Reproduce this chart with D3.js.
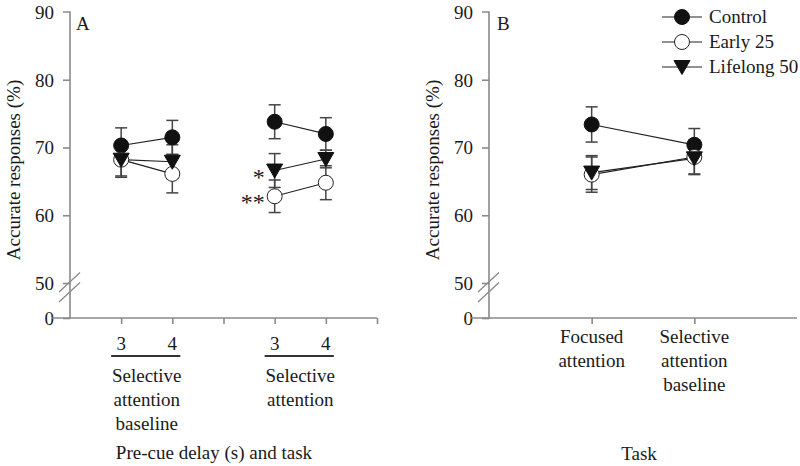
<!DOCTYPE html>
<html>
<head>
<meta charset="utf-8">
<script src="https://cdn.jsdelivr.net/npm/d3@7"></script>
<style>
  html, body { margin: 0; padding: 0; background: #fff; }
  svg { display: block; }
  text { font-family: "Liberation Serif", "Times New Roman", serif; fill: #1a1a1a; }
</style>
</head>
<body>
<svg id="chart" width="800" height="466"></svg>
<script>
// ---------- DATA ----------
const seriesNames = ["Control", "Early 25", "Lifelong 50"];
const yTicks = [0, 50, 60, 70, 80, 90];

// Panel A: pre-cue delay (s) within two tasks
const panelAPositions = [1, 2, 4, 5];
const panelADelays = ["3", "4", "3", "4"];
const panelAGroupLabels = [["Selective", "attention", "baseline"], ["Selective", "attention"]];
const controlA = [70.3, 71.5, 73.8, 72.0];
const controlAErr = [2.6, 2.5, 2.5, 2.4];
const early25A = [68.2, 66.1, 62.8, 64.8];
const early25AErr = [2.6, 2.8, 2.4, 2.5];
const lifelong50A = [68.2, 67.9, 66.6, 68.3];
const lifelong50AErr = [2.4, 2.5, 2.5, 1.3];
const signifA = [{ series: "Lifelong 50", pos: 4, mark: "*" }, { series: "Early 25", pos: 4, mark: "**" }];

// Panel B: task
const panelBPositions = [1, 2];
const panelBLabels = [["Focused", "attention"], ["Selective", "attention", "baseline"]];
const controlB = [73.4, 70.4];
const controlBErr = [2.6, 2.4];
const early25B = [66.0, 68.6];
const early25BErr = [2.6, 2.5];
const lifelong50B = [66.3, 68.4];
const lifelong50BErr = [2.5, 2.4];

// ---------- DRAW ----------
const svg = d3.select("#chart");
const axisColor = "#8a8a8a";
const errColor = "#444";

// broken y scale: 0..50 compressed, 50..90 linear
const y = d3.scaleLinear().domain([0, 50, 90]).range([318, 283, 12]);

const xA = d3.scaleLinear().domain([0, 6]).range([70, 377]);
const xB = d3.scaleLinear().domain([0, 3]).range([489, 797]);

function marker(g, type, cx, cy) {
  if (type === "Control") {
    g.append("circle").attr("cx", cx).attr("cy", cy).attr("r", 7.5)
      .attr("fill", "#111").attr("stroke", "#111").attr("stroke-width", 1);
  } else if (type === "Early 25") {
    g.append("circle").attr("cx", cx).attr("cy", cy).attr("r", 7.5)
      .attr("fill", "#fff").attr("stroke", "#222").attr("stroke-width", 1);
  } else {
    const p = d3.path();
    p.moveTo(cx - 8, cy - 6.5); p.lineTo(cx + 8, cy - 6.5); p.lineTo(cx, cy + 7.5); p.closePath();
    g.append("path").attr("d", p.toString()).attr("fill", "#111").attr("stroke", "#111").attr("stroke-width", 1);
  }
}

function drawPanel(opts) {
  const { x, axisX, xEnd, positions, tickPositions, series, letter, letterX } = opts;
  const g = svg.append("g");

  // y axis
  const yAxis = d3.axisLeft(y).tickValues(yTicks).tickSize(7).tickPadding(9).tickFormat(d3.format("d"));
  const ya = g.append("g").attr("transform", `translate(${axisX},0)`).call(yAxis);
  ya.attr("font-family", null);
  ya.select(".domain").attr("stroke", axisColor).attr("stroke-width", 1.6).attr("d", `M-7,${y(90)}H0V${y(0) + 1}`);
  ya.selectAll(".tick line").attr("stroke", axisColor).attr("stroke-width", 1.6);
  ya.selectAll(".tick text").style("font-size", "19px").attr("fill", "#1a1a1a")
    .style("font-family", '"Liberation Serif", serif').attr("dy", "0.34em");
  ya.selectAll(".tick").filter(d => d === 90).select("line").remove();

  // break marks
  [0, 10].forEach(off => {
    g.append("line").attr("x1", axisX - 11).attr("y1", 292 + off).attr("x2", axisX + 10).attr("y2", 272.5 + off)
      .attr("stroke", axisColor).attr("stroke-width", 1.3);
  });

  // x axis
  const xAxis = d3.axisBottom(x).tickValues(tickPositions).tickSize(6).tickFormat("");
  const xa = g.append("g").attr("transform", `translate(0,${y(0)})`).call(xAxis);
  xa.select(".domain").attr("stroke", axisColor).attr("stroke-width", 1.6)
    .attr("d", `M${axisX - 18},0H${xEnd}`);
  xa.selectAll(".tick line").attr("stroke", axisColor).attr("stroke-width", 1.6);

  // panel letter
  g.append("text").attr("x", letterX).attr("y", 30).style("font-size", "19px").text(letter);

  // y title
  g.append("text").attr("transform", `translate(${axisX - 50},170) rotate(-90)`)
    .attr("text-anchor", "middle").style("font-size", "19px").text("Accurate responses (%)");

  // error bars (behind)
  series.forEach(s => {
    s.values.forEach((v, i) => {
      const cx = x(positions[i]);
      const e = s.err[i];
      g.append("line").attr("x1", cx).attr("x2", cx).attr("y1", y(v + e)).attr("y2", y(v - e))
        .attr("stroke", errColor).attr("stroke-width", 1.5);
      [v + e, v - e].forEach(t => {
        g.append("line").attr("x1", cx - 6).attr("x2", cx + 6).attr("y1", y(t)).attr("y2", y(t))
          .attr("stroke", errColor).attr("stroke-width", 1.5);
      });
    });
  });

  // connecting lines (within groups of consecutive positions)
  series.forEach(s => {
    const pts = s.values.map((v, i) => ({ p: positions[i], v }));
    const line = d3.line().x(d => x(d.p)).y(d => y(d.v));
    for (let i = 0; i < pts.length - 1; i++) {
      if (pts[i + 1].p - pts[i].p === 1) {
        g.append("path").attr("d", line([pts[i], pts[i + 1]])).attr("fill", "none")
          .attr("stroke", "#222").attr("stroke-width", 1.2);
      }
    }
  });

  // markers
  series.forEach(s => {
    s.values.forEach((v, i) => marker(g, s.name, x(positions[i]), y(v)));
  });
  return g;
}

const gA = drawPanel({
  x: xA, axisX: 70, xEnd: 377, positions: panelAPositions, tickPositions: [1, 2, 3, 4, 5, 6],
  letter: "A", letterX: 76,
  series: [
    { name: "Control", values: controlA, err: controlAErr },
    { name: "Early 25", values: early25A, err: early25AErr },
    { name: "Lifelong 50", values: lifelong50A, err: lifelong50AErr }
  ]
});

const gB = drawPanel({
  x: xB, axisX: 489, xEnd: 797, positions: panelBPositions, tickPositions: [1, 2],
  letter: "B", letterX: 497,
  series: [
    { name: "Control", values: controlB, err: controlBErr },
    { name: "Early 25", values: early25B, err: early25BErr },
    { name: "Lifelong 50", values: lifelong50B, err: lifelong50BErr }
  ]
});

// significance marks
const seriesA = { "Control": controlA, "Early 25": early25A, "Lifelong 50": lifelong50A };
signifA.forEach(s => {
  const idx = panelAPositions.indexOf(s.pos);
  gA.append("text").attr("x", xA(s.pos) - 10).attr("y", y(seriesA[s.series][idx]) + 14)
    .attr("text-anchor", "end").style("font-size", "24px").attr("fill", "#1a1a1a").text(s.mark);
});

// Panel A x labels
panelADelays.forEach((d, i) => {
  gA.append("text").attr("x", xA(panelAPositions[i])).attr("y", 350)
    .attr("text-anchor", "middle").style("font-size", "19px").text(d);
});
panelAGroupLabels.forEach((lines, gi) => {
  const p0 = panelAPositions[gi * 2], p1 = panelAPositions[gi * 2 + 1];
  const mid = (xA(p0) + xA(p1)) / 2;
  gA.append("line").attr("x1", xA(p0) - 10).attr("x2", xA(p1) + 8).attr("y1", 356).attr("y2", 356)
    .attr("stroke", "#333").attr("stroke-width", 2);
  lines.forEach((t, li) => {
    gA.append("text").attr("x", mid).attr("y", 382 + li * 24)
      .attr("text-anchor", "middle").style("font-size", "19px").text(t);
  });
});
gA.append("text").attr("x", 214).attr("y", 459).attr("text-anchor", "middle")
  .style("font-size", "19px").text("Pre-cue delay (s) and task");

// Panel B x labels
panelBLabels.forEach((lines, i) => {
  lines.forEach((t, li) => {
    gB.append("text").attr("x", xB(panelBPositions[i])).attr("y", 343 + li * 24)
      .attr("text-anchor", "middle").style("font-size", "19px").text(t);
  });
});
gB.append("text").attr("x", 639).attr("y", 460).attr("text-anchor", "middle")
  .style("font-size", "19px").text("Task");

// legend
const legend = svg.append("g");
seriesNames.forEach((name, i) => {
  const ly = 17 + i * 25;
  legend.append("line").attr("x1", 662).attr("x2", 702).attr("y1", ly).attr("y2", ly)
    .attr("stroke", "#222").attr("stroke-width", 1.2);
  marker(legend, name, 682, ly);
  legend.append("text").attr("x", 709).attr("y", ly).attr("dy", "0.34em")
    .style("font-size", "19px").text(name);
});
</script>
</body>
</html>
